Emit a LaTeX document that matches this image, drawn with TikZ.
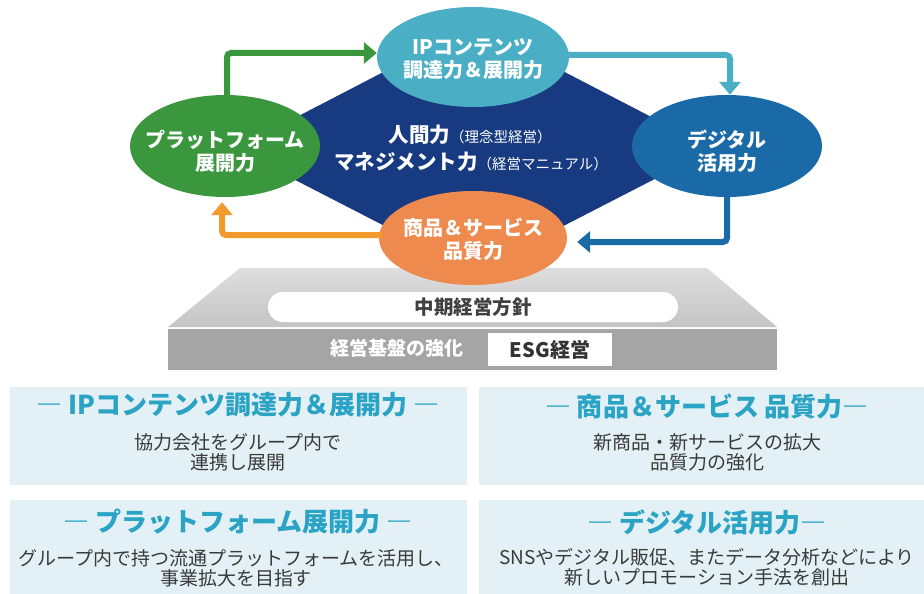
\documentclass[tikz,border=0pt]{standalone}
\usepackage{fontspec}
\setmainfont{Noto Sans CJK JP}
\usetikzlibrary{shapes.geometric,arrows.meta,calc}
\definecolor{cgreen}{HTML}{3A973D}
\definecolor{cteal}{HTML}{4AAFC5}
\definecolor{cblue}{HTML}{1A6AA8}
\definecolor{corange}{HTML}{EE8A4E}
\definecolor{carrorange}{HTML}{F29A2E}
\definecolor{cnavy}{HTML}{173A80}
\definecolor{cbox}{HTML}{E3F1F6}
\definecolor{ctitle}{HTML}{2AA3C4}
\definecolor{cbody}{HTML}{3A3A3A}
\definecolor{cbar}{HTML}{A5A5A5}
\begin{document}
\begin{tikzpicture}[x=1pt,y=-1pt,
  oval/.style={ellipse, minimum width=190pt, minimum height=102pt, inner sep=0pt, draw=none},
  ovaltext/.style={text=white, align=center, inner sep=0pt, font=\bfseries\fontsize{20}{23}\selectfont},
  flow/.style={line width=6pt, rounded corners=4pt, -{Triangle[length=13pt,width=21pt]}},
  panel/.style={fill=cbox, draw=none, inner sep=0pt, minimum height=98pt},
  ttl/.style={text=ctitle, inner sep=0pt, font=\bfseries\fontsize{26}{30}\selectfont},
  bdy/.style={text=cbody, align=center, inner sep=0pt, font=\fontsize{19}{20}\selectfont},
  basetext/.style={inner sep=0pt, font=\bfseries\fontsize{19.5}{22}\selectfont}
]
\fill[white] (0,0) rectangle (924,594);
\useasboundingbox (0,0) rectangle (924,594);

% central diamond
\fill[cnavy] (235,149) -- (474,25) -- (713,149) -- (474,272) -- cycle;

% ellipse nodes
\node[oval, fill=cgreen] (plat) at (225,146) {};
\node[oval, fill=cteal, minimum width=192pt, minimum height=100pt] (ip) at (473,57) {};
\node[oval, fill=cblue] (dig) at (727,146) {};

% arrows
\draw[flow, cgreen] ($(plat.north)+(2,3)$) |- ($(ip.west)+(0,-4)$);
\draw[flow, cteal] ($(ip.east)+(-3,-2)$) -| ($(dig.north)+(3,0)$);

% platform
\shade[top color=black!13, bottom color=black!23] (240,268) -- (707,268) -- (777,327) -- (168,327) -- cycle;
\fill[cbar] (168,329) rectangle (777,370);
\node[fill=white, rounded corners=15pt, minimum width=410pt, minimum height=30pt, basetext, text=black!75] (mid) at (473,307) {中期経営方針};
\node[basetext, text=white, font=\bfseries\fontsize{19}{22}\selectfont] (kiban) at (397,348) {経営基盤の強化};
\node[fill=white, minimum width=124pt, minimum height=33pt, inner sep=0pt, text=black!80, font=\bfseries\fontsize{20}{22}\selectfont] (esg) at (550,349.5) {ESG経営};

\node[oval, fill=corange, minimum width=188pt, minimum height=94pt] (prod) at (473,238) {};
\draw[flow, carrorange] ($(prod.west)+(3,-3)$) -| ($(plat.south)+(-3,5)$);
\draw[flow, cblue] ($(dig.south)+(0,-3)$) |- ($(prod.east)+(10,4)$);

% ellipse texts
\node[ovaltext] (platT) at (225,151.5) {プラットフォーム\\展開力};
\node[ovaltext] (ipT) at (473,59.5) {IPコンテンツ\\調達力＆展開力};
\node[ovaltext] (digT) at (727,151.5) {デジタル\\活用力};
\node[ovaltext] (prodT) at (473,239) {商品＆サービス\\品質力};

% diamond texts
\node[text=white, inner sep=0pt] (hum) at (470,135) {{\bfseries\fontsize{20.5}{24}\selectfont 人間力}{\fontsize{14.5}{16}\selectfont （理念型経営）}};
\node[text=white, inner sep=0pt] (mgmt) at (471,162) {{\bfseries\fontsize{20.5}{24}\selectfont マネジメント力}{\fontsize{14.5}{16}\selectfont （経営マニュアル）}};

% panels
\node[panel, minimum width=457pt] (p1) at (238.5,436) {};
\node[panel, minimum width=445pt] (p2) at (701.5,436) {};
\node[panel, minimum width=457pt, minimum height=94pt] (p3) at (238.5,547) {};
\node[panel, minimum width=445pt, minimum height=94pt] (p4) at (701.5,547) {};

\node[ttl] (t1) at (238,405) {― IPコンテンツ調達力＆展開力 ―};
\node[bdy] (b1) at (238,452) {協力会社をグループ内で\\連携し展開};
\node[ttl] (t2) at (707,406) {― 商品＆サービス 品質力―};
\node[bdy] (b2) at (707,452) {新商品・新サービスの拡大\\品質力の強化};
\node[ttl] (t3) at (238,522) {― プラットフォーム展開力 ―};
\node[bdy] (b3) at (236,568.5) {グループ内で持つ流通プラットフォームを活用し、\\事業拡大を目指す};
\node[ttl] (t4) at (707,522) {― デジタル活用力―};
\node[bdy] (b4) at (707,567.5) {SNSやデジタル販促、またデータ分析などにより\\新しいプロモーション手法を創出};
\end{tikzpicture}
\end{document}
